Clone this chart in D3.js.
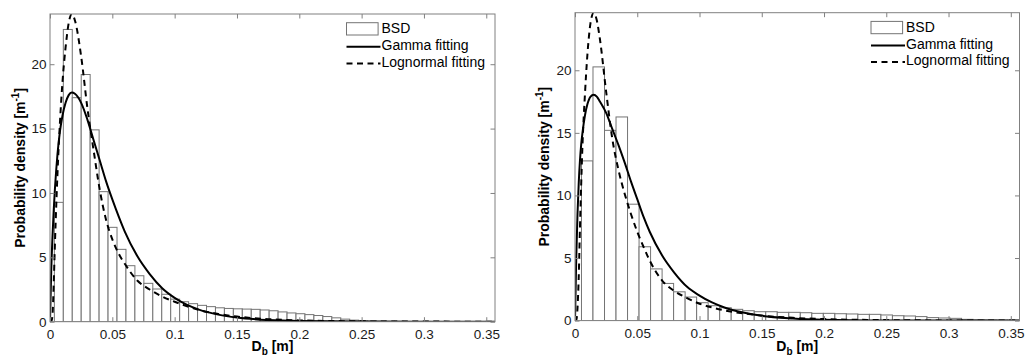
<!DOCTYPE html>
<html>
<head>
<meta charset="utf-8">
<script src="https://cdn.jsdelivr.net/npm/d3@7"></script>
<style>
body { margin: 0; background: #fff; }
svg { display: block; }
text { font-family: "Liberation Sans", Arial, sans-serif; }
</style>
</head>
<body>
<script>
var width = 1025, height = 356

var xTicks = [0, 0.05, 0.1, 0.15, 0.2, 0.25, 0.3, 0.35]
var yTicks = [0, 5, 10, 15, 20]
var xMax = 0.357
var yMaxes = [23.9, 24.6]
var legendLabels = ["BSD", "Gamma fitting", "Lognormal fitting"]

// histogram (BSD), left panel
var binStartA = 0.0035, binWidthA = 0.00718
var bsdA = [9.27, 22.7, 17.4, 19.2, 14.9, 10.1, 7.33, 5.62, 4.35, 3.57, 2.98, 2.54, 2.13,
  1.75, 1.55, 1.40, 1.27, 1.17, 1.08, 1.03, 1.0, 0.98, 0.96,
  0.91, 0.85, 0.76, 0.68, 0.62, 0.55, 0.48, 0.40, 0.30, 0.2,
  0.12, 0.07, 0.05, 0.04, 0.03, 0.03, 0.02, 0.02, 0.02, 0.01,
  0.01, 0.01, 0.01, 0.01, 0.01, 0.01]

// histogram (BSD), right panel
var binStartB = 0.0052, binWidthB = 0.00925
var bsdB = [12.76, 20.27, 15.2, 16.27, 9.3, 5.9, 4.13, 2.97, 2.3, 1.88,
  1.43, 1.19, 1.03, 0.90, 0.79, 0.71, 0.71, 0.66, 0.66, 0.63,
  0.58, 0.58, 0.55, 0.53, 0.50, 0.50, 0.45, 0.39, 0.37, 0.32,
  0.24, 0.21, 0.18, 0.10, 0.05, 0.04, 0.03, 0.02]

// fitted curves at these diameters
var curveX = [0, 0.001, 0.002, 0.003, 0.004, 0.005, 0.006, 0.008, 0.010, 0.0125, 0.015, 0.0175,
  0.020, 0.025, 0.030, 0.035, 0.040, 0.045, 0.050, 0.055, 0.060, 0.070, 0.080, 0.090,
  0.100, 0.110, 0.120, 0.135, 0.150, 0.175, 0.200, 0.250, 0.300, 0.357]

var gammaA = [0, 4.0, 6.6, 8.7, 10.4, 11.8, 13.0, 14.8, 16.0, 17.0, 17.6, 17.8,
  17.7, 17.0, 15.7, 14.1, 12.5, 10.9, 9.5, 8.2, 7.0, 5.1, 3.7, 2.6,
  1.85, 1.3, 0.92, 0.55, 0.32, 0.13, 0.05, 0.01, 0, 0]
var lognA = [0, 0, 0.5, 3.0, 6.2, 9.0, 11.5, 15.5, 18.6, 21.3, 23.2, 23.9,
  23.4, 20.6, 16.6, 13.3, 10.2, 7.9, 6.4, 5.3, 4.5, 3.2, 2.5, 1.95,
  1.55, 1.2, 0.9, 0.6, 0.4, 0.2, 0.1, 0.03, 0.01, 0]

var gammaB = [0, 5.0, 8.5, 11.0, 12.8, 14.1, 15.0, 16.4, 17.3, 17.9, 18.05, 17.9,
  17.5, 16.6, 15.3, 14.0, 12.6, 11.1, 9.7, 8.3, 7.1, 5.2, 3.8, 2.7,
  2.0, 1.45, 1.05, 0.65, 0.38, 0.17, 0.07, 0.01, 0, 0]
var lognB = [0, 0, 1.0, 3.5, 7.5, 11.0, 14.0, 18.1, 21.3, 23.8, 24.6, 24.0,
  22.5, 18.3, 14.5, 12.0, 10.1, 8.5, 7.1, 5.9, 4.8, 3.2, 2.35, 1.8,
  1.35, 1.05, 0.82, 0.58, 0.4, 0.22, 0.12, 0.04, 0.01, 0]

var panels = [
  {id: "a", left: 50, right: 495, top: 14, bottom: 321.7, labelX: 24.5,
   yMax: yMaxes[0], binStart: binStartA, binWidth: binWidthA, bsd: bsdA, gamma: gammaA, logn: lognA},
  {id: "b", left: 575, right: 1019.5, top: 12.7, bottom: 320.6, labelX: 549,
   yMax: yMaxes[1], binStart: binStartB, binWidth: binWidthB, bsd: bsdB, gamma: gammaB, logn: lognB}
]

var svg = d3.select("body")
  .append("svg")
  .attr("width", width)
  .attr("height", height)

var defs = svg.append("defs")

function drawPanel(p) {
  var x = d3.scaleLinear().domain([0, xMax]).range([p.left, p.right])
  var y = d3.scaleLinear().domain([0, p.yMax]).range([p.bottom, p.top])

  defs.append("clipPath")
    .attr("id", "clip-" + p.id)
    .append("rect")
      .attr("x", p.left)
      .attr("y", p.top)
      .attr("width", p.right - p.left)
      .attr("height", p.bottom - p.top)

  var g = svg.append("g")

  var plot = g.append("g").attr("clip-path", "url(#clip-" + p.id + ")")

  plot.selectAll(".bar")
    .data(p.bsd)
    .enter()
    .append("rect")
    .attr("class", "bar")
    .attr("x", function(d, i) { return x(p.binStart + i * p.binWidth) })
    .attr("width", x(p.binWidth) - x(0))
    .attr("y", function(d) { return y(d) })
    .attr("height", function(d) { return y(0) - y(d) })
    .attr("fill", "#fff")
    .attr("stroke", "#747474")
    .attr("stroke-width", 1)

  var line = d3.line()
    .x(function(d, i) { return x(curveX[i]) })
    .y(function(d) { return y(d) })
    .curve(d3.curveMonotoneX)

  plot.append("path")
    .datum(p.gamma)
    .attr("d", line)
    .attr("fill", "none")
    .attr("stroke", "#000")
    .attr("stroke-width", 2)

  plot.append("path")
    .datum(p.logn)
    .attr("d", line)
    .attr("fill", "none")
    .attr("stroke", "#000")
    .attr("stroke-width", 2)
    .attr("stroke-dasharray", "6,4.5")

  // axes, ticks pointing inwards on all four sides
  var tick = 4.5
  g.append("g")
    .attr("transform", "translate(0," + p.bottom + ")")
    .call(d3.axisBottom(x).tickValues(xTicks).tickSizeInner(-tick).tickSizeOuter(0).tickPadding(7.6)
      .tickFormat(function(d) { return String(d) }))
  g.append("g")
    .attr("transform", "translate(0," + p.top + ")")
    .call(d3.axisTop(x).tickValues(xTicks).tickSizeInner(-tick).tickSizeOuter(0).tickFormat(""))
  g.append("g")
    .attr("transform", "translate(" + p.left + ",0)")
    .call(d3.axisLeft(y).tickValues(yTicks).tickSizeInner(-tick).tickSizeOuter(0).tickPadding(3.5))
  g.append("g")
    .attr("transform", "translate(" + p.right + ",0)")
    .call(d3.axisRight(y).tickValues(yTicks).tickSizeInner(-tick).tickSizeOuter(0).tickFormat(""))

  g.selectAll(".domain").remove()
  g.selectAll(".tick line").attr("stroke", "#808080")
  g.selectAll(".tick text")
    .attr("fill", "#1a1a1a")
    .style("font-size", "13.5px")
    .style("font-family", "'Liberation Sans', Arial, sans-serif")

  g.append("rect")
    .attr("x", p.left)
    .attr("y", p.top)
    .attr("width", p.right - p.left)
    .attr("height", p.bottom - p.top)
    .attr("fill", "none")
    .attr("stroke", "#808080")
    .attr("stroke-width", 1)

  // axis titles
  var xl = g.append("text")
    .attr("x", (p.left + p.right) / 2)
    .attr("y", 351)
    .attr("text-anchor", "middle")
    .style("font-size", "14px")
    .style("font-weight", "bold")
  xl.append("tspan").text("D")
  xl.append("tspan").attr("dy", 3.8).style("font-size", "10px").text("b")
  xl.append("tspan").attr("dy", -3.8).text(" [m]")

  var yl = g.append("text")
    .attr("transform", "translate(" + p.labelX + "," + (p.top + p.bottom) / 2 + ") rotate(-90)")
    .attr("text-anchor", "middle")
    .style("font-size", "14px")
    .style("font-weight", "bold")
  yl.append("tspan").text("Probability density [m")
  yl.append("tspan").attr("dy", -6).style("font-size", "10px").text("-1")
  yl.append("tspan").attr("dy", 6).text("]")

  // legend, no box
  var lx = p.right - 113.5
  var ly = p.top + 19.3
  var rowH = 16.7
  var leg = g.append("g")
  leg.append("rect")
    .attr("x", lx - 35).attr("y", ly - 10.6)
    .attr("width", 31.6).attr("height", 12.3)
    .attr("fill", "#fff").attr("stroke", "#747474")
  leg.append("line")
    .attr("x1", lx - 35).attr("x2", lx - 1)
    .attr("y1", ly + rowH - 3.3).attr("y2", ly + rowH - 3.3)
    .attr("stroke", "#000").attr("stroke-width", 2)
  leg.append("line")
    .attr("x1", lx - 35).attr("x2", lx - 1)
    .attr("y1", ly + 2 * rowH - 3.3).attr("y2", ly + 2 * rowH - 3.3)
    .attr("stroke", "#000").attr("stroke-width", 2)
    .attr("stroke-dasharray", "6,4.5")
  leg.selectAll(".legText")
    .data(legendLabels)
    .enter()
    .append("text")
    .attr("class", "legText")
    .attr("x", lx)
    .attr("y", function(d, i) { return ly + i * rowH })
    .style("font-size", "14px")
    .attr("fill", "#000")
    .text(function(d) { return d })
}

panels.forEach(drawPanel)
</script>
</body>
</html>
